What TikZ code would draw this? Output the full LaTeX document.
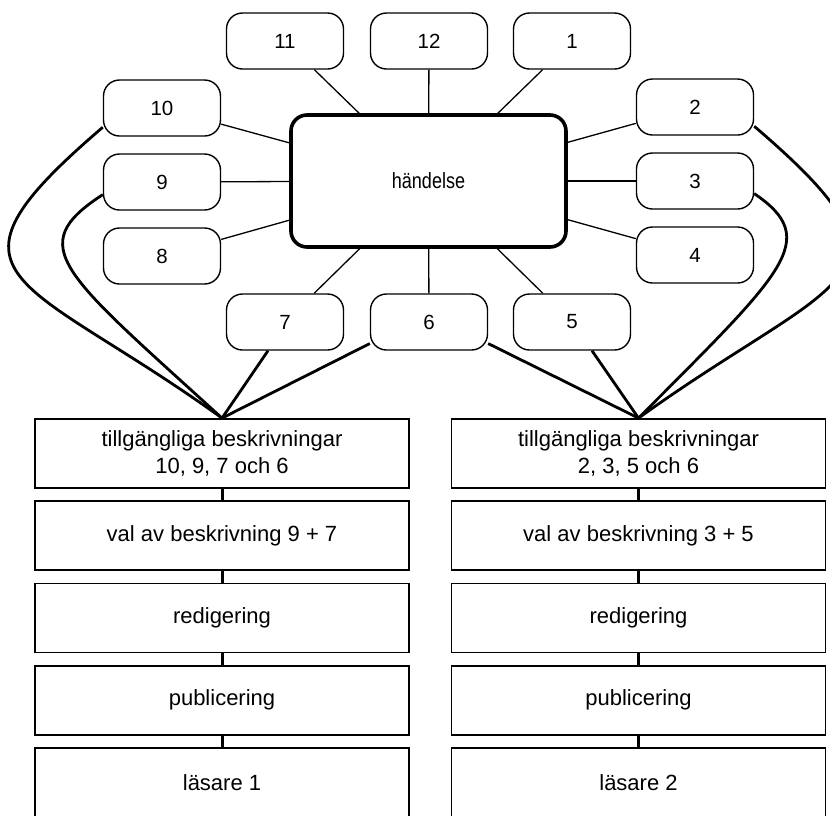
\documentclass[tikz,border=0pt]{standalone}
\usepackage{fontspec}
\setmainfont{Liberation Sans}
\newfontfamily\narrowfont{Liberation Sans}[FakeStretch=0.82]

\tikzset{
  numbox/.style={draw, line width=1.4pt, rounded corners=16pt, minimum width=117pt, minimum height=56pt, font=\fontsize{20.5}{24}\selectfont},
  eventbox/.style={draw, line width=3.6pt, rounded corners=16pt, minimum width=275pt, minimum height=132pt, font=\narrowfont\fontsize{22}{26}\selectfont},
  stagebox/.style={draw, line width=1.8pt, minimum width=374pt, minimum height=69pt, align=center, font=\fontsize{22}{27}\selectfont},
  spoke/.style={line width=1.3pt},
  feed/.style={line width=2.8pt},
  chain/.style={line width=3pt},
}

\begin{document}
\begin{tikzpicture}[x=1pt, y=-1pt]
        \useasboundingbox (0,0) rectangle (830,815);
        \clip (0,0) rectangle (830,815);

        % händelse
        \node[eventbox] (ev) at (428.5,181) {händelse};
        \foreach \n/\x/\y in {11/285/41, 12/429/41, 1/572/41,
                              10/162/108, 9/162/182, 8/162/256,
                              2/695/107, 3/695/181, 4/695/255,
                              7/285/322, 6/429/322, 5/572/322} {
            \node[numbox] (n\n) at (\x,\y) {\n};
        }
        \foreach \n in {1,...,12} {
            \draw[spoke] (ev) -- (n\n);
        }

        % kedjor
        \foreach \txt [count=\i] in {{tillgängliga beskrivningar\\10, 9, 7 och 6},
                                     {val av beskrivning 9 + 7}, redigering, publicering, {läsare 1}} {
            \node[stagebox] (l\i) at (222,{453.5+82.25*(\i-1)}) {\txt};
        }
        \foreach \txt [count=\i] in {{tillgängliga beskrivningar\\2, 3, 5 och 6},
                                     {val av beskrivning 3 + 5}, redigering, publicering, {läsare 2}} {
            \node[stagebox] (r\i) at (638.5,{453.5+82.25*(\i-1)}) {\txt};
        }
        \foreach \i/\j in {1/2, 2/3, 3/4, 4/5} {
            \draw[chain] (l\i) -- (l\j);
            \draw[chain] (r\i) -- (r\j);
        }

        % val
        \draw[feed] (n10.198) .. controls +(-180,154) and +(-200,-144) .. (l1.north);
        \draw[feed] (n9.192) .. controls +(-80,52) and +(-160,-146) .. (l1.north);
        \draw[feed] (n7.south) ++(-17,0) -- (l1.north);
        \draw[feed] (n6.200) -- (l1.north);
        \draw[feed] (n2.342) .. controls +(180,154) and +(200,-144) .. (r1.north);
        \draw[feed] (n3.348) .. controls +(68,46) and +(145,-146) .. (r1.north);
        \draw[feed] (n5.south) ++(20,0) -- (r1.north);
        \draw[feed] (n6.340) -- (r1.north);
\end{tikzpicture}
\end{document}
